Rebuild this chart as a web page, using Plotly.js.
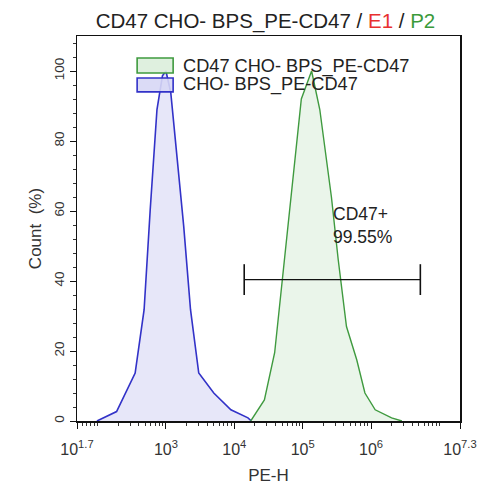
<!DOCTYPE html>
<html>
<head>
<meta charset="utf-8">
<script src="https://cdn.plot.ly/plotly-3.0.1.min.js"></script>
<style>html,body{margin:0;padding:0;background:#fff;}#chart{width:480px;height:485px;}</style>
</head>
<body>
<div id="chart"></div>
<script>
// PE-H values and Count (%)
const blueName = "CHO- BPS_PE-CD47";
const blueX = [98, 190, 355, 480, 590, 740, 890, 1000, 1175, 1480, 1820, 2290, 3020, 5010, 8910, 15850, 17780];
const blueY = [0, 2.7, 13.7, 31.8, 60.5, 89, 98.6, 100, 94, 72.9, 55.7, 31.8, 13.7, 8, 3.2, 0.9, 0];

const greenName = "CD47 CHO- BPS_PE-CD47";
const greenX = [17380, 27540, 38900, 53700, 72440, 95500, 134900, 177800, 263000, 331100, 436500, 616600, 812800, 1148000, 1995000, 2818000];
const greenY = [0, 6, 19.5, 46, 70, 92, 100, 89, 64, 46, 27, 17.5, 8, 3.2, 0.9, 0];

const gateX = [13960, 5250000];
const gateY = [40.4, 40.4];
const gateLabel = "CD47+<br>99.55%";
const gateLabelX = 263000;
const gateLabelY = 56;

const xTickVals = [Math.pow(10, 1.7), 1e3, 1e4, 1e5, 1e6, Math.pow(10, 7.3)];
const xTickText = ["10<sup>1.7</sup>", "10<sup>3</sup>", "10<sup>4</sup>", "10<sup>5</sup>", "10<sup>6</sup>", "10<sup>7.3</sup>"];
const yTickVals = [0, 20, 40, 60, 80, 100];

const font = "Liberation Sans, Arial, sans-serif";

const traces = [
  {x: blueX, y: blueY, type: "scatter", mode: "lines", fill: "tozeroy",
   line: {color: "#3232c8", width: 1.6}, fillcolor: "rgba(215,215,245,0.6)", showlegend: false, name: blueName},
  {x: greenX, y: greenY, type: "scatter", mode: "lines", fill: "tozeroy",
   line: {color: "#3f9a3f", width: 1.4}, fillcolor: "rgba(220,238,220,0.6)", showlegend: false, name: greenName},
  {x: gateX, y: gateY, type: "scatter", mode: "lines+markers",
   line: {color: "#111", width: 1.4}, marker: {symbol: "line-ns", size: 22, line: {color: "#111", width: 1.6}},
   showlegend: false, hoverinfo: "skip"}
];

const layout = {
  width: 480, height: 485,
  margin: {l: 77, r: 20, t: 36, b: 64},
  paper_bgcolor: "#fff", plot_bgcolor: "#fff",
  font: {family: font, color: "#222"},
  title: {text: 'CD47 CHO- BPS_PE-CD47 / <span style="color:#e8302f">E1</span> / <span style="color:#3a9a3a">P2</span>',
          font: {size: 20.5, color: "#222", family: font}, x: 0.553, xanchor: "center", y: 0.957, yanchor: "middle"},
  xaxis: {type: "log", range: [1.7, 7.3], tickvals: xTickVals, ticktext: xTickText,
          showline: true, linecolor: "#111", linewidth: 1.5, mirror: true, ticks: "outside", ticklen: 6, tickcolor: "#111",
          minor: {ticks: "outside", ticklen: 3, tickcolor: "#333", dtick: "D1"},
          ticklabelstandoff: 7,
          showgrid: false, zeroline: false, tickfont: {size: 16, color: "#333"},
          title: {text: "PE-H", font: {size: 17, color: "#333"}, standoff: 18}},
  yaxis: {range: [0, 110], tickvals: yTickVals, tickangle: -90,
          showline: true, linecolor: "#111", linewidth: 1.5, mirror: true, ticks: "outside", ticklen: 6, tickcolor: "#111",
          minor: {ticks: "outside", ticklen: 3, tickcolor: "#333", dtick: 4},
          showgrid: false, zeroline: false, tickfont: {size: 13.5, color: "#333"},
          title: {text: "Count  (%)", font: {size: 17, color: "#333"}, standoff: 6}},
  shapes: [
    {type: "rect", xref: "paper", yref: "paper", x0: 0.157, x1: 0.251, y0: 0.904, y1: 0.943,
     line: {color: "#3f9a3f", width: 1.6}, fillcolor: "rgba(220,238,220,0.9)"},
    {type: "rect", xref: "paper", yref: "paper", x0: 0.157, x1: 0.251, y0: 0.855, y1: 0.891,
     line: {color: "#3232c8", width: 1.6}, fillcolor: "rgba(215,215,245,0.9)"}
  ],
  annotations: [
    {xref: "paper", yref: "paper", x: 0.2715, y: 0.922, xanchor: "left", yanchor: "middle", showarrow: false,
     text: greenName, font: {size: 18.2, color: "#222"}},
    {xref: "paper", yref: "paper", x: 0.2715, y: 0.873, xanchor: "left", yanchor: "middle", showarrow: false,
     text: blueName, font: {size: 18.2, color: "#222"}},
    {xref: "x", yref: "y", x: Math.log10(gateLabelX), y: gateLabelY, xanchor: "left", yanchor: "middle", showarrow: false,
     align: "left", text: gateLabel, font: {size: 17.5, color: "#222"}}
  ]
};

Plotly.newPlot("chart", traces, layout, {displayModeBar: false, staticPlot: true});
</script>
</body>
</html>
